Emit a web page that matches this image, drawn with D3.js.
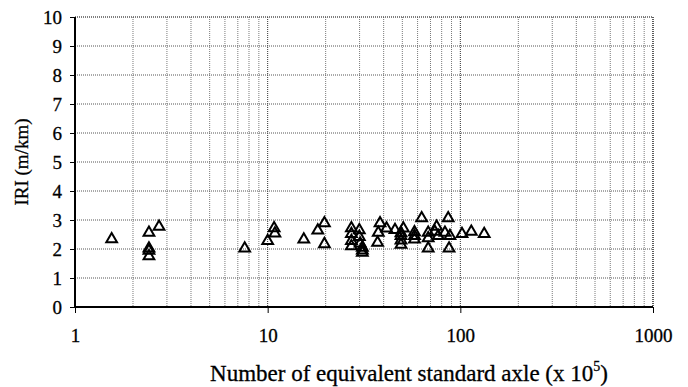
<!DOCTYPE html>
<html>
<head>
<meta charset="utf-8">
<script src="https://cdn.jsdelivr.net/npm/d3@7"></script>
<style>
  body { margin: 0; background: #fff; }
  text { font-family: "Liberation Serif", "Times New Roman", serif; fill: #000; }
</style>
</head>
<body>
<div id="chart"></div>
<script>
// frame
const FRAME_WIDTH = 688;
const FRAME_HEIGHT = 387;
const MARGINS = {left: 75, right: 35, top: 17, bottom: 80};
const VIS_WIDTH = FRAME_WIDTH - MARGINS.left - MARGINS.right;
const VIS_HEIGHT = FRAME_HEIGHT - MARGINS.top - MARGINS.bottom;

// data
const ESAL = [1.55, 2.42, 2.73, 2.42, 2.42, 2.42, 7.6, 10.0, 10.8, 10.9,
  15.4, 18.2, 19.7, 19.7, 27.2, 27.2, 27.2, 27.2, 29.9, 29.9,
  30.2, 31.0, 31.0, 31.0, 37.2, 37.5, 38.3, 41.4, 45.8, 49.2,
  49.2, 49.2, 49.2, 50.6, 57.8, 57.8, 57.8, 63.0, 68.1, 68.1,
  68.1, 73.7, 75.3, 76.8, 83.2, 86.5, 88.3, 87.4, 102, 114, 133];
const IRI = [2.34, 2.56, 2.77, 2.02, 1.94, 1.75, 2.02, 2.28, 2.72, 2.54,
  2.33, 2.64, 2.89, 2.17, 2.72, 2.52, 2.28, 2.10, 2.65, 2.42,
  2.19, 2.05, 1.95, 1.87, 2.22, 2.56, 2.89, 2.71, 2.66, 2.55,
  2.45, 2.30, 2.15, 2.71, 2.58, 2.45, 2.33, 3.06, 2.56, 2.37,
  2.02, 2.60, 2.77, 2.45, 2.56, 3.06, 2.45, 2.02, 2.52, 2.60, 2.52];
const X_TICKS = [1, 10, 100, 1000];
const Y_TICKS = [0, 1, 2, 3, 4, 5, 6, 7, 8, 9, 10];

const FRAME = d3.select("#chart")
  .append("svg")
    .attr("width", FRAME_WIDTH)
    .attr("height", FRAME_HEIGHT);

const x = d3.scaleLog().domain([1, 1000]).range([0, VIS_WIDTH]);
const y = d3.scaleLinear().domain([0, 10]).range([VIS_HEIGHT, 0]);

const G = FRAME.append("g")
  .attr("transform", `translate(${MARGINS.left},${MARGINS.top})`);

// minor vertical grid (2..9 of each decade)
const minor = [];
[1, 10, 100].forEach((d) => {
  for (let k = 2; k <= 9; k++) minor.push(d * k);
});
G.selectAll(".vminor")
  .data(minor)
  .enter()
  .append("line")
    .attr("x1", (d) => x(d)).attr("x2", (d) => x(d))
    .attr("y1", 0).attr("y2", VIS_HEIGHT)
    .attr("stroke", "#7a7a7a")
    .attr("stroke-dasharray", "1,1");

// major vertical grid
G.selectAll(".vmajor")
  .data(X_TICKS.slice(1))
  .enter()
  .append("line")
    .attr("x1", (d) => x(d)).attr("x2", (d) => x(d))
    .attr("y1", 0).attr("y2", VIS_HEIGHT)
    .attr("stroke", "#333")
    .attr("stroke-width", (d) => d === 1000 ? 1.6 : 1)
    .attr("stroke-dasharray", "1,1");

// horizontal grid
G.selectAll(".hgrid")
  .data(Y_TICKS.slice(1))
  .enter()
  .append("line")
    .attr("x1", 0).attr("x2", VIS_WIDTH)
    .attr("y1", (d) => y(d)).attr("y2", (d) => y(d))
    .attr("stroke", "#555")
    .attr("stroke-width", (d) => d === 10 ? 1.6 : 1)
    .attr("stroke-dasharray", "1,1");

// axes
const xAxis = G.append("g")
  .attr("transform", `translate(0,${VIS_HEIGHT})`)
  .call(d3.axisBottom(x).tickValues(X_TICKS).tickFormat(d3.format("d"))
    .tickSize(6).tickPadding(16));
const yAxis = G.append("g")
  .call(d3.axisLeft(y).tickValues(Y_TICKS).tickSize(5).tickPadding(8));

[xAxis, yAxis].forEach((a) => {
  a.select(".domain").attr("stroke", "#000").attr("stroke-width", 2);
  a.selectAll(".tick line").attr("stroke", "#000");
  a.selectAll("text").attr("font-size", 19)
    .attr("stroke", "#000").attr("stroke-width", 0.3)
    .style("font-family", "'Liberation Serif', serif");
});
xAxis.select(".domain").attr("d", `M0,0H${VIS_WIDTH}`);
yAxis.select(".domain").attr("d", `M0,0V${VIS_HEIGHT}`);

// points
G.selectAll(".point")
  .data(ESAL.map((d, i) => [d, IRI[i]]))
  .enter()
  .append("path")
    .attr("class", "point")
    .attr("d", d3.symbol().type(d3.symbolTriangle).size(50))
    .attr("transform", (d) => `translate(${x(d[0])},${y(d[1])})`)
    .attr("fill", "none")
    .attr("stroke", "#000")
    .attr("stroke-width", 2);

// axis titles
FRAME.append("text")
  .attr("transform", `translate(28,${MARGINS.top + VIS_HEIGHT / 2}) rotate(-90)`)
  .attr("text-anchor", "middle")
  .attr("font-size", 19)
  .attr("stroke", "#000").attr("stroke-width", 0.3)
  .text("IRI (m/km)");

const title = FRAME.append("text")
  .attr("x", 409)
  .attr("y", 381)
  .attr("text-anchor", "middle")
  .attr("font-size", 23)
  .attr("stroke", "#000").attr("stroke-width", 0.3);
title.append("tspan").text("Number of equivalent standard axle (x 10");
title.append("tspan").attr("font-size", 14).attr("dy", -10).text("5");
title.append("tspan").attr("dy", 10).text(")");
</script>
</body>
</html>
